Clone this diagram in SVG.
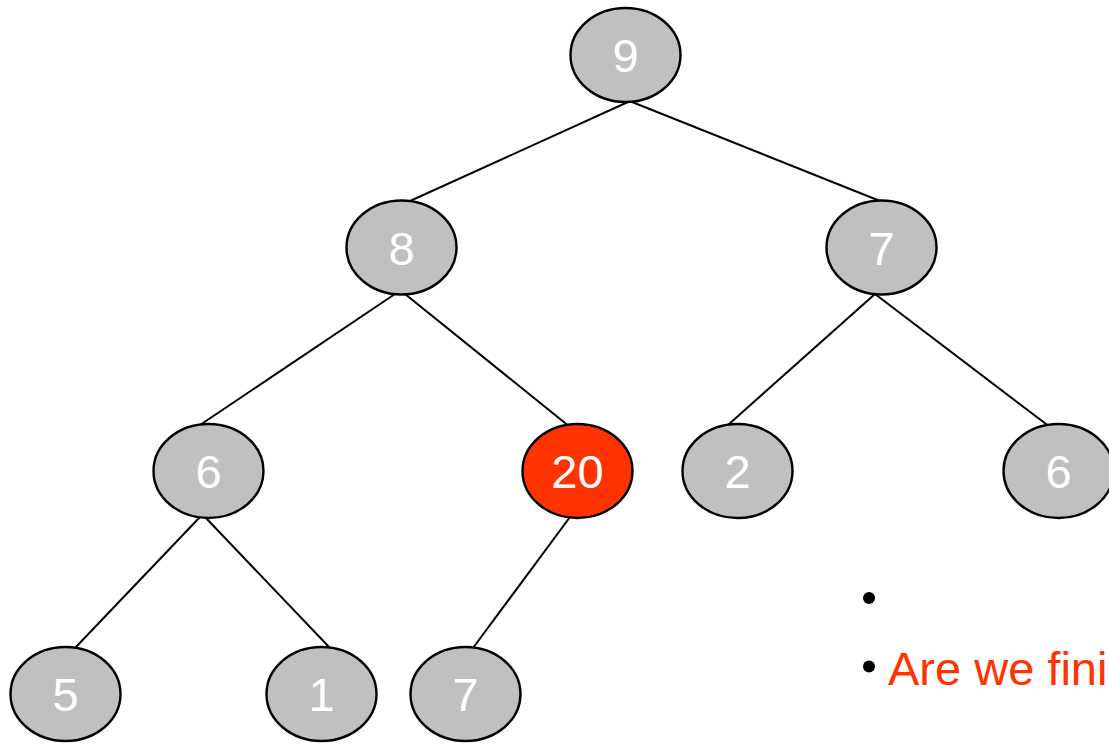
<svg xmlns="http://www.w3.org/2000/svg" width="1109" height="746" viewBox="0 0 1109 746">
  <style>
    .node ellipse { fill: #c0c0c0; stroke: #000; stroke-width: 2.4; }
    .node.hot ellipse { fill: #ff3300; }
    .node text { fill: #fff; font-family: "Liberation Sans", Arial, sans-serif; font-size: 47px; text-anchor: middle; }
    .edges line { stroke: #000; stroke-width: 2; }
    .bullet { fill: #000; }
    .note { font-family: "Liberation Sans", Arial, sans-serif; font-size: 47px; fill: #ff3300; }
  </style>
  <rect width="1109" height="746" fill="#fff"/>

  <g class="edges" id="edges">
    <line x1="628" y1="102" x2="410" y2="201"/>
    <line x1="632" y1="102" x2="880" y2="201"/>
    <line x1="395" y1="294" x2="200" y2="425"/>
    <line x1="405" y1="294" x2="570" y2="427"/>
    <line x1="875" y1="294" x2="728" y2="425"/>
    <line x1="875" y1="294" x2="1050" y2="427"/>
    <line x1="200" y1="517" x2="75" y2="648"/>
    <line x1="205" y1="517" x2="330" y2="648"/>
    <line x1="570" y1="517" x2="473" y2="648"/>
  </g>

  <g class="node" id="n9"><ellipse cx="625.5" cy="55" rx="55" ry="47"/><text x="625.5" y="72">9</text></g>
  <g class="node" id="n8"><ellipse cx="401.5" cy="247.5" rx="55" ry="47"/><text x="401.5" y="264.5">8</text></g>
  <g class="node" id="n7a"><ellipse cx="881.5" cy="247.5" rx="55" ry="47"/><text x="881.5" y="264.5">7</text></g>
  <g class="node" id="n6a"><ellipse cx="208.5" cy="471" rx="55" ry="47"/><text x="208.5" y="488">6</text></g>
  <g class="node hot" id="n20"><ellipse cx="577.5" cy="471" rx="55" ry="47"/><text x="577.5" y="488">20</text></g>
  <g class="node" id="n2"><ellipse cx="737.5" cy="471" rx="55" ry="47"/><text x="737.5" y="488">2</text></g>
  <g class="node" id="n6b"><ellipse cx="1058.5" cy="471" rx="55" ry="47"/><text x="1058.5" y="488">6</text></g>
  <g class="node" id="n5"><ellipse cx="65.5" cy="694" rx="55" ry="47"/><text x="65.5" y="711">5</text></g>
  <g class="node" id="n1"><ellipse cx="321.5" cy="694" rx="55" ry="47"/><text x="321.5" y="711">1</text></g>
  <g class="node" id="n7b"><ellipse cx="465.5" cy="694" rx="55" ry="47"/><text x="465.5" y="711">7</text></g>

  <g id="notes">
    <circle class="bullet" cx="869" cy="598" r="6"/>
    <circle class="bullet" cx="869" cy="666.5" r="6"/>
    <text class="note" x="888" y="685">Are we fini</text>
  </g>
</svg>
